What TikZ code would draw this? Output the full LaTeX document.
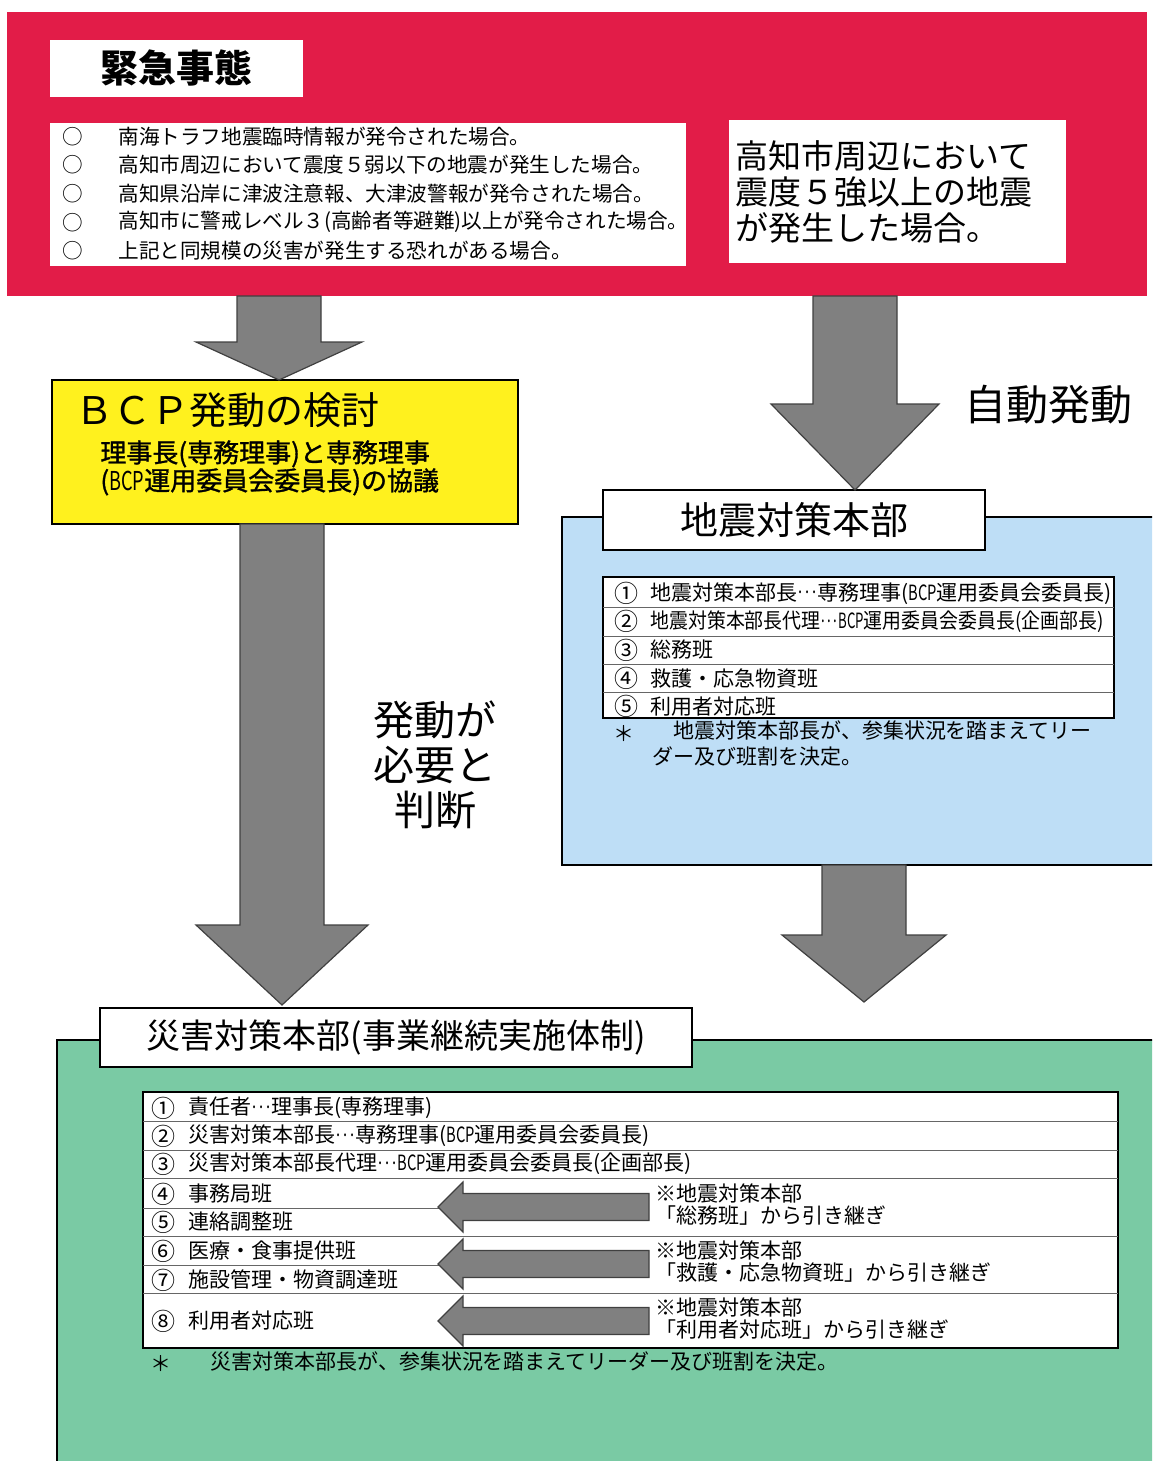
\documentclass[tikz,border=0pt]{standalone}
\usepackage{graphicx}
\usepackage{fontspec}
\setmainfont{Noto Sans CJK JP}
\newfontfamily\condlat[FakeStretch=0.7]{Noto Sans CJK JP}
\newfontfamily\medjp[FakeBold=1.2]{Noto Sans CJK JP}
\newcommand{\lat}[1]{{\condlat #1}}
\newcommand{\tdots}{\makebox[0.95em]{\raisebox{0.3em}{\condlat.\kern0.14em.\kern0.14em.}}}
\newcommand{\squeeze}[2]{\scalebox{#1}[1]{#2}}
\usetikzlibrary{positioning, calc, fit}
\definecolor{alertred}{RGB}{226,28,72}
\definecolor{bcpyellow}{RGB}{255,241,30}
\definecolor{quakeblue}{RGB}{190,222,246}
\definecolor{disastergreen}{RGB}{122,202,164}
\definecolor{blockgray}{RGB}{128,128,128}

\begin{document}
\begin{tikzpicture}[
    x = 0.5pt, y = -0.5pt,
    panel/.style = {
      inner sep = 0pt, outer sep = 0pt
    },
    framed/.style = {
      panel, draw = black, line width = 0.8pt
    },
    titlebox/.style = {
      framed, fill = white
    },
    listtext/.style = {
      anchor = west, inner sep = 0pt, font = \fontsize{10.3pt}{12pt}\selectfont
    },
    rowtext/.style = {
      anchor = west, inner sep = 0pt, font = \fontsize{10.5pt}{12pt}\selectfont
    },
    rownum/.style = {
      anchor = west, inner sep = 0pt, font = \fontsize{12pt}{12pt}\selectfont
    },
    bigtext/.style = {
      align = center, inner sep = 0pt, font = \fontsize{20.5pt}{22.5pt}\selectfont
    },
    rowline/.style = {
      draw = black!60, line width = 0.5pt
    },
    block/.style = {
      fill = blockgray, draw = black!75, line width = 0.6pt
    },
    ]

    \useasboundingbox (0,0) rectangle (1152,1461);
    \clip (0,0) rectangle (1152,1461);

    % draw emergency panel
    \node  [panel, fill = alertred, fit = {(7,12) (1147,296)}]  (emergency)  {};
    \node  [panel, fill = white, fit = {(50,40) (303,97)}]  (kinkyu)  {};
    \node  [inner sep = 0pt, font = \bfseries\fontsize{19pt}{20pt}\selectfont]
           (kinkyulabel)  at (kinkyu.center)  {緊急事態};
    \node  [panel, fill = white, fit = {(50,123) (686,266)}]  (cases)  {};
    \foreach \txt [count = \i] in {
        {南海トラフ地震臨時情報が発令された場合。},
        {高知市周辺において震度５弱以下の地震が発生した場合。},
        {高知県沿岸に津波注意報、大津波警報が発令された場合。},
        {高知市に警戒レベル３(高齢者等避難)以上が発令された場合。},
        {上記と同規模の災害が発生する恐れがある場合。}}
    {
      \node  [listtext]  (mark\i)  at (62, 107.5+28.7*\i)  {○};
      \node  [listtext]  (case\i)  at (118, 107.5+28.7*\i)  {\txt};
    }
    \node  [panel, fill = white, fit = {(729,120) (1066,263)}]  (strong)  {};
    \node  [anchor = west, align = left, inner sep = 0pt,
            font = \fontsize{16.5pt}{18pt}\selectfont]  (strongtxt)  at (735,192)
           {高知市周辺において\\震度５強以上の地震\\が発生した場合。};

    % draw BCP review
    \node  [framed, fill = bcpyellow, fit = {(52,380) (518,524)}]  (bcp)  {};
    \node  [anchor = west, inner sep = 0pt,
            font = \fontsize{19pt}{20pt}\selectfont]  (bcptitle)  at (75,410)  {ＢＣＰ発動の検討};
    \node  [anchor = north west, align = left, inner sep = 0pt,
            font = \medjp\fontsize{13pt}{14pt}\selectfont]  (bcpsub)  at (100,440)
           {理事長(専務理事)と専務理事\\(\lat{BCP}運用委員会委員長)の協議};

    % draw earthquake headquarters
    \node  [framed, fill = quakeblue, fit = {(562,517) (1170,865)}]  (quake)  {};
    \node  [titlebox, fit = {(603,490) (985,550)}]  (quaketitle)  {};
    \node  [inner sep = 0pt, font = \fontsize{19pt}{20pt}\selectfont]
           (quakelabel)  at (quaketitle.center)  {地震対策本部};
    \node  [framed, fill = white, fit = {(603,577) (1114,718)}]  (quaketable)  {};
    \foreach \y in {607, 636, 664, 692}
    \draw  [rowline]  (603,\y) -- (1114,\y);
    \foreach \num/\txt [count = \i] in {
        ①/{地震対策本部長\tdots 専務理事(\lat{BCP}運用委員会委員長)},
        ②/{\squeeze{0.9}{地震対策本部長代理\tdots\lat{BCP}運用委員会委員長(企画部長)}},
        ③/{総務班},
        ④/{救護・応急物資班},
        ⑤/{利用者対応班}}
    {
      \node  [rownum]  (qnum\i)  at (614, 565+28.3*\i)  {\num};
      \node  [rowtext]  (qrow\i)  at (650, 565+28.3*\i)  {\txt};
    }
    \node  [rowtext]  (qstar)  at (613,734)  {＊};
    \node  [rowtext]  (qnote1)  at (673,731)  {地震対策本部長が、参集状況を踏まえてリー};
    \node  [rowtext]  (qnote2)  at (652,757)  {ダー及び班割を決定。};

    % draw disaster headquarters
    \node  [framed, fill = disastergreen, fit = {(57,1040) (1170,1480)}]  (disaster)  {};
    \node  [titlebox, fit = {(100,1008) (692,1067)}]  (disastertitle)  {};
    \node  [inner sep = 0pt, font = \fontsize{17pt}{18pt}\selectfont]
           (disasterlabel)  at (disastertitle.center)  {災害対策本部(事業継続実施体制)};
    \node  [framed, fill = white, fit = {(143,1092) (1118,1348)}]  (disastertable)  {};
    \foreach \y in {1121, 1150, 1178, 1236, 1293}
    \draw  [rowline]  (143,\y) -- (1118,\y);
    \foreach \y in {1208, 1265}
    \draw  [rowline]  (143,\y) -- (440,\y);
    \foreach \num/\txt/\y [count = \i] in {
        ①/{責任者\tdots 理事長(専務理事)}/1108,
        ②/{災害対策本部長\tdots 専務理事(\lat{BCP}運用委員会委員長)}/1136,
        ③/{災害対策本部長代理\tdots\lat{BCP}運用委員会委員長(企画部長)}/1164,
        ④/{事務局班}/1194,
        ⑤/{連絡調整班}/1222,
        ⑥/{医療・食事提供班}/1251,
        ⑦/{施設管理・物資調達班}/1280,
        ⑧/{利用者対応班}/1321}
    {
      \node  [rownum]  (dnum\i)  at (151,\y)  {\num};
      \node  [rowtext]  (drow\i)  at (188,\y)  {\txt};
    }
    \foreach \txt/\y [count = \i] in {
        {「総務班」から引き継ぎ}/1193,
        {「救護・応急物資班」から引き継ぎ}/1250,
        {「利用者対応班」から引き継ぎ}/1307}
    {
      \node  [rowtext]  (hand\i)  at (655,\y)  {※地震対策本部};
      \node  [rowtext]  (handb\i)  at (655,\y+23)  {\txt};
    }
    \node  [rowtext]  (dstar)  at (150,1364)  {＊};
    \node  [rowtext]  (dnote)  at (210,1362)  {災害対策本部長が、参集状況を踏まえてリーダー及び班割を決定。};

    % draw labels
    \node  [bigtext]  (judge)  at (435,765)  {発動が\\必要と\\判断};
    \node  [bigtext, font = \fontsize{21pt}{22pt}\selectfont]  (auto)  at (1048,405)  {自動発動};

    % draw paths
    \foreach \src/\dst/\cx/\hl/\hh/\gap in {
        emergency/bcp/279/38/83/0,
        bcp/disastertitle/282/80/86/3,
        emergency/quaketitle/855/86/84/0,
        quake/disaster/864/67/82/38}
    {
      \coordinate  (base)  at (\cx,0 |- \src.south);
      \coordinate  (tip)  at ($(\cx,0 |- \dst.north)+(0,-\gap)$);
      \draw  [block]  ($(base)+(-42,0)$) -- ($(base)+(42,0)$)
        -- ($(tip)+(42,-\hl)$) -- ($(tip)+(\hh,-\hl)$) -- (tip)
        -- ($(tip)+(-\hh,-\hl)$) -- ($(tip)+(-42,-\hl)$) -- cycle;
    }

    \foreach \i in {1, ..., 3}
    {
      \coordinate  (tail)  at ($(hand\i.west)+(-6,14)$);
      \coordinate  (htip)  at ($(tail)-(211,0)$);
      \draw  [block]  ($(tail)+(0,-13.5)$) -- ($(htip)+(25,-13.5)$) -- ($(htip)+(25,-25)$)
        -- (htip) -- ($(htip)+(25,25)$) -- ($(htip)+(25,13.5)$) -- ($(tail)+(0,13.5)$) -- cycle;
    }

\end{tikzpicture}
\end{document}
